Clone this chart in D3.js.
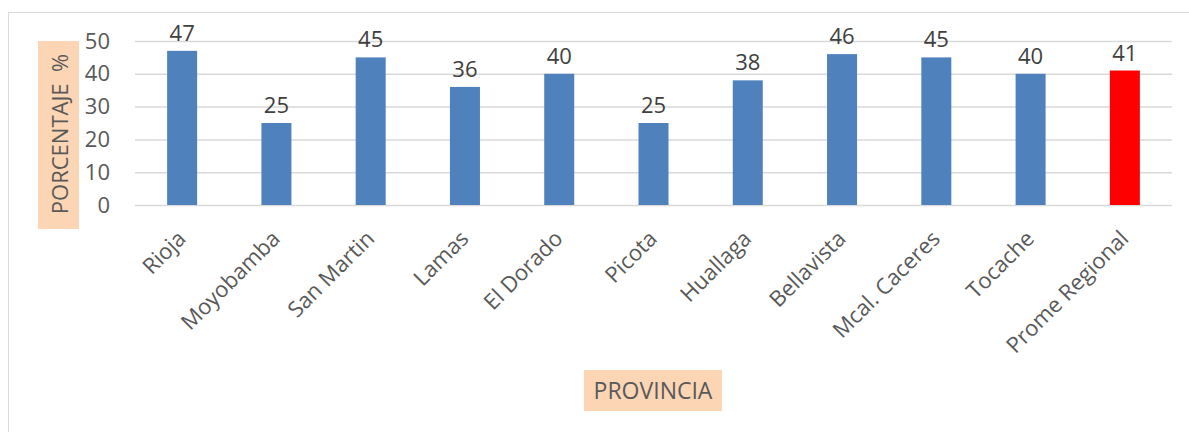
<!DOCTYPE html>
<html>
<head>
<meta charset="utf-8">
<script src="https://cdn.jsdelivr.net/npm/d3@7"></script>
<style>
  body { margin: 0; background: #fff; }
  svg { display: block; font-family: "Open Sans", "Noto Sans", sans-serif; }
</style>
</head>
<body>
<div id="chart"></div>
<script>
// provinces and percentages
const provincias = ['Rioja', 'Moyobamba', 'San Martin', 'Lamas', 'El Dorado', 'Picota',
                    'Huallaga', 'Bellavista', 'Mcal. Caceres', 'Tocache', 'Prome Regional'];
const porcentajes = [47, 25, 45, 36, 40, 25, 38, 46, 45, 40, 41];
const yTicks = [0, 10, 20, 30, 40, 50];

const width = 1189, height = 432;
const margin = {l: 135, t: 41, r: 17, b: 227};
const fontSize = '22px';

const svg = d3.select('#chart').append('svg')
  .attr('width', width)
  .attr('height', height);

// chart frame
svg.append('rect')
  .attr('x', 8.5).attr('y', 12.5)
  .attr('width', width + 10).attr('height', height + 10)
  .attr('fill', 'none')
  .attr('stroke', '#d9d9d9')
  .attr('stroke-width', 1);

const x = d3.scaleBand()
  .domain(provincias)
  .range([margin.l, width - margin.r])
  .padding(0);

const y = d3.scaleLinear()
  .domain([0, 50])
  .range([height - margin.b, margin.t]);

// gridlines
const grid = d3.axisLeft(y).tickValues(yTicks)
  .tickSize(-(width - margin.r - margin.l)).tickFormat('');
svg.append('g')
  .attr('transform', `translate(${margin.l},0)`)
  .call(grid)
  .call(g => g.select('.domain').remove())
  .call(g => g.selectAll('line').attr('stroke', '#d9d9d9').attr('stroke-width', 1.5));

// y tick labels
const yAxis = d3.axisLeft(y).tickValues(yTicks).tickSize(0).tickPadding(25);
svg.append('g')
  .attr('transform', `translate(${margin.l},0)`)
  .call(yAxis)
  .call(g => g.select('.domain').remove())
  .call(g => g.selectAll('text')
    .attr('fill', '#595959')
    .attr('font-size', fontSize)
    .attr('font-family', '"Open Sans", sans-serif'));

// bars
const barW = 30;
svg.append('g').selectAll('rect')
  .data(porcentajes)
  .join('rect')
  .attr('x', (d, i) => x(provincias[i]) + x.bandwidth() / 2 - barW / 2)
  .attr('y', d => y(d))
  .attr('width', barW)
  .attr('height', d => y(0) - y(d))
  .attr('fill', (d, i) => i === provincias.length - 1 ? '#ff0000' : '#4f81bd');

// value labels
svg.append('g').selectAll('text')
  .data(porcentajes)
  .join('text')
  .attr('x', (d, i) => x(provincias[i]) + x.bandwidth() / 2)
  .attr('y', d => y(d) - 10)
  .attr('text-anchor', 'middle')
  .attr('fill', '#404040')
  .attr('font-size', fontSize)
  .text(d => d);

// x labels, rotated
const xAxis = d3.axisBottom(x).tickSize(0).tickPadding(0);
svg.append('g')
  .attr('transform', `translate(0,${y(0)})`)
  .call(xAxis)
  .call(g => g.select('.domain').remove())
  .call(g => g.selectAll('text')
    .attr('fill', '#595959')
    .attr('font-size', fontSize)
    .attr('font-family', '"Open Sans", sans-serif')
    .attr('text-anchor', 'end')
    .attr('y', 0)
    .attr('dy', 0)
    .attr('transform', 'translate(5,35) rotate(-45)'));

// y title with shaded box
svg.append('rect')
  .attr('x', 38).attr('y', 41)
  .attr('width', 41).attr('height', 188)
  .attr('fill', '#fcd5b4');
svg.append('text')
  .attr('transform', 'translate(68,134) rotate(-90)')
  .attr('text-anchor', 'middle')
  .attr('fill', '#595959')
  .attr('font-size', fontSize)
  .attr('xml:space', 'preserve')
  .text('PORCENTAJE  %');

// x title with shaded box
svg.append('rect')
  .attr('x', 584).attr('y', 370)
  .attr('width', 138).attr('height', 41)
  .attr('fill', '#fcd5b4');
svg.append('text')
  .attr('x', 653).attr('y', 399)
  .attr('text-anchor', 'middle')
  .attr('fill', '#595959')
  .attr('font-size', '23px')
  .text('PROVINCIA');
</script>
</body>
</html>
